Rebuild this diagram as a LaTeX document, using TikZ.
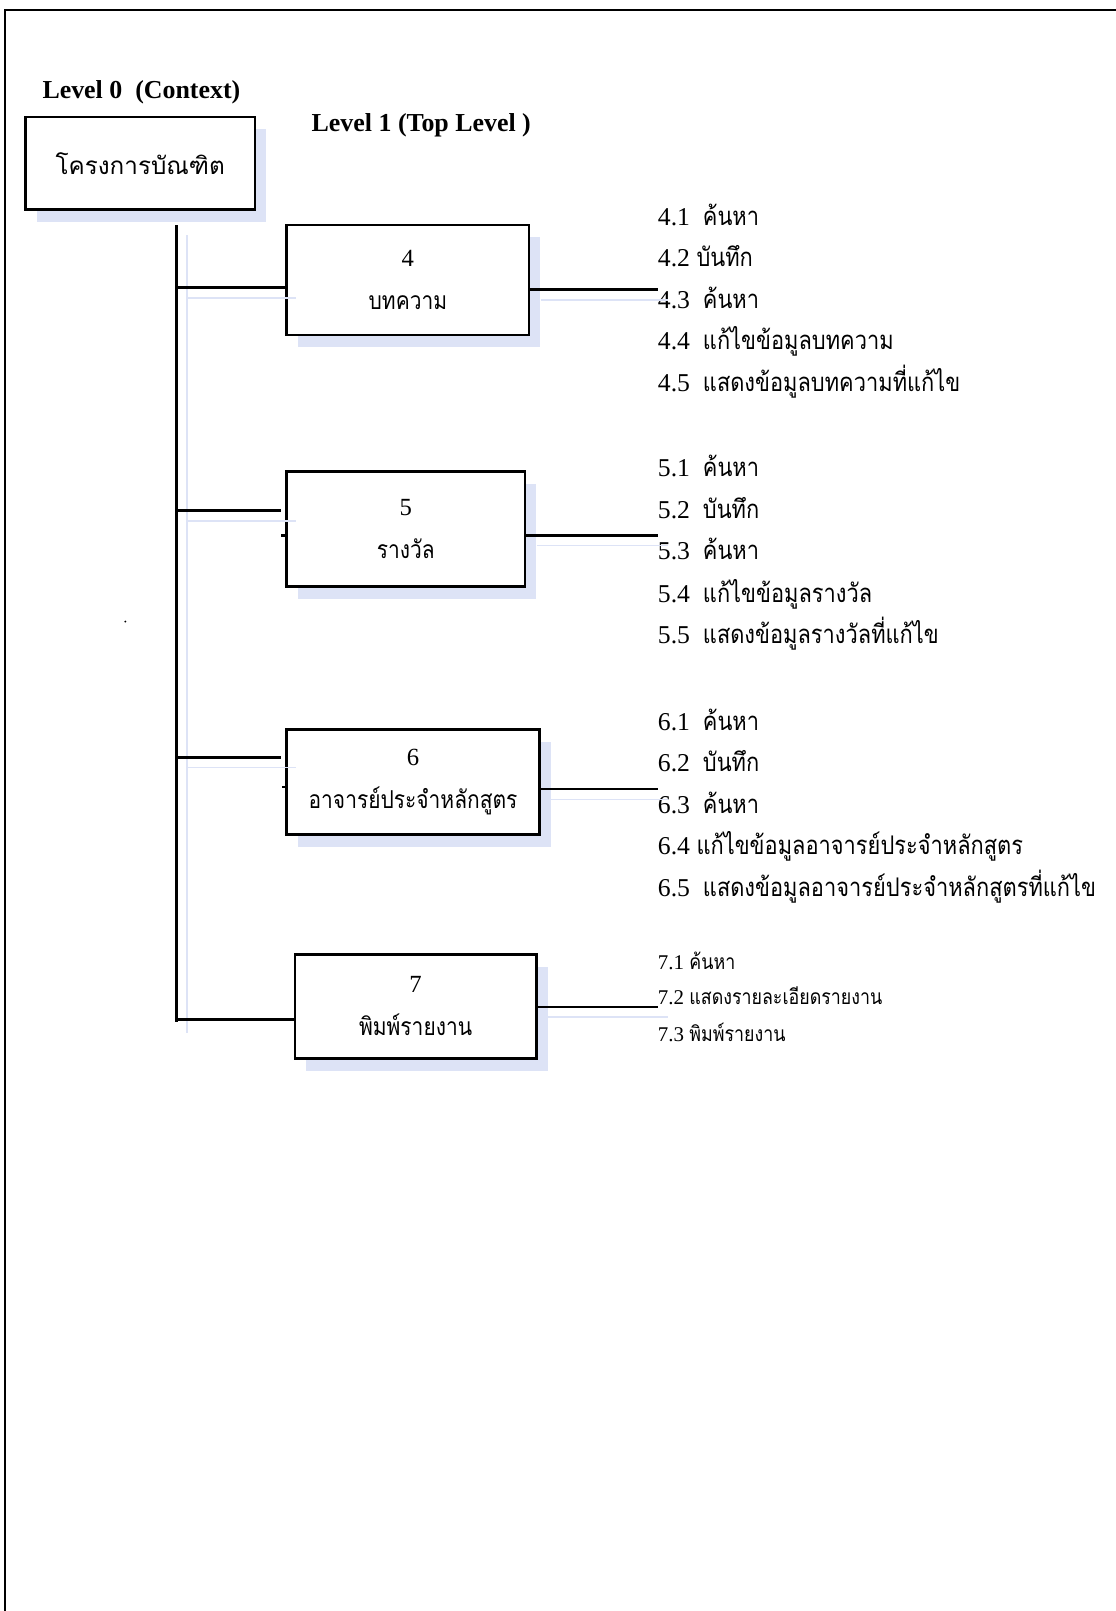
\documentclass[tikz,border=0pt]{standalone}
\usepackage{fontspec}
\usetikzlibrary{shadows}
\setmainfont{Liberation Serif}
\newfontfamily\thai[Script=Thai,FakeStretch=0.85]{Loma}
\newfontfamily\thaiwide[Script=Thai]{Loma}
\definecolor{shade}{RGB}{221,227,246}
\newcommand\lvl[2]{#1{\thai #2}}
\begin{document}
\begin{tikzpicture}[x=0.5pt,y=-0.5pt,
  proc/.style={draw=black,line width=1.25pt,fill=white,inner sep=0pt,align=center,
    font=\fontsize{12}{14}\selectfont,
    drop shadow={fill=shade,opacity=1,shadow xshift=5.5pt,shadow yshift=-6pt}},
  link/.style={line width=1.3pt,black},
  ghostline/.style={draw=shade,line width=0.8pt,transform canvas={xshift=5pt,yshift=-5pt}},
  sub/.style={anchor=base west,inner sep=0pt,font=\fontsize{12.5}{15}\selectfont},
  subsmall/.style={anchor=base west,inner sep=0pt,font=\fontsize{10.2}{12}\selectfont},
  heading/.style={anchor=base west,inner sep=0pt,font=\bfseries\fontsize{12.6}{15}\selectfont}]

\useasboundingbox (0,0) rectangle (1086,1568);

% page frame (top and left edges)
\draw[line width=1.1pt] (5,1568) -- (5,10) -- (1086,10);

% headings
\node[heading] (h0) at (41,96) {Level 0\ \ (Context)};
\node[heading] (h1) at (303,128) {Level 1 (Top Level )};

% process boxes
\node[proc,minimum width=223*0.5pt,minimum height=90*0.5pt,font=\thaiwide\fontsize{11.8}{14}\selectfont]
  (root) at (136.5,159) {โครงการบัณฑิต};
\node[proc,minimum width=236*0.5pt,minimum height=107*0.5pt] (b4) at (397,272.5) {4\\[7pt]{\thai บทความ}};
\node[proc,minimum width=232*0.5pt,minimum height=112*0.5pt] (b5) at (395,515) {5\\[7pt]{\thai รางวัล}};
\node[proc,minimum width=246*0.5pt,minimum height=102*0.5pt] (b6) at (402,761) {6\\[7pt]{\thai อาจารย์ประจำหลักสูตร}};
\node[proc,minimum width=235*0.5pt,minimum height=101*0.5pt] (b7) at (404.5,979.5) {7\\[7pt]{\thai พิมพ์รายงาน}};

% sub-process lists
\node[sub] (l41) at (640,219) {\lvl{4.1\ \ }{ค้นหา}};
\node[sub] (l42) at (640,259) {\lvl{4.2 }{บันทึก}};
\node[sub] (l43) at (640,300) {\lvl{4.3\ \ }{ค้นหา}};
\node[sub] (l44) at (640,340) {\lvl{4.4\ \ }{แก้ไขข้อมูลบทความ}};
\node[sub] (l45) at (640,381) {\lvl{4.5\ \ }{แสดงข้อมูลบทความที่แก้ไข}};

\node[sub] (l51) at (640,464) {\lvl{5.1\ \ }{ค้นหา}};
\node[sub] (l52) at (640,505) {\lvl{5.2\ \ }{บันทึก}};
\node[sub] (l53) at (640,545) {\lvl{5.3\ \ }{ค้นหา}};
\node[sub] (l54) at (640,586) {\lvl{5.4\ \ }{แก้ไขข้อมูลรางวัล}};
\node[sub] (l55) at (640,626) {\lvl{5.5\ \ }{แสดงข้อมูลรางวัลที่แก้ไข}};

\node[sub] (l61) at (640,711) {\lvl{6.1\ \ }{ค้นหา}};
\node[sub] (l62) at (640,751) {\lvl{6.2\ \ }{บันทึก}};
\node[sub] (l63) at (640,792) {\lvl{6.3\ \ }{ค้นหา}};
\node[sub] (l64) at (640,832) {\lvl{6.4 }{แก้ไขข้อมูลอาจารย์ประจำหลักสูตร}};
\node[sub] (l65) at (640,873) {\lvl{6.5\ \ }{แสดงข้อมูลอาจารย์ประจำหลักสูตรที่แก้ไข}};

\node[subsmall] (l71) at (640,944) {\lvl{7.1 }{ค้นหา}};
\node[subsmall] (l72) at (640,978) {\lvl{7.2 }{แสดงรายละเอียดรายงาน}};
\node[subsmall] (l73) at (640,1014) {\lvl{7.3 }{พิมพ์รายงาน}};

% trunk and branch points
\coordinate (trtop) at (172,219);
\coordinate (trbot) at (172,995);
\coordinate (j4) at (172,280);
\coordinate (j5) at (172,497);
\coordinate (j6) at (172,737);
\coordinate (j7) at (172,992);

% faint offset copy of the connectors
\draw[ghostline] (trtop) -- (trbot);
\draw[ghostline] (j4) -- (j4 -| b4.west);
\draw[ghostline] (j5) -- (j5 -| b5.west);
\draw[ghostline] (j6) -- (j6 -| b6.west);
\draw[ghostline] (b4.east |- 0,282) -- (l43.west |- 0,282);
\draw[ghostline] (b5.east |- 0,521) -- (l53.west |- 0,521);
\draw[ghostline] (b6.east |- 0,768) -- (l63.west |- 0,768);
\draw[ghostline] (b7.east |- 0,980) -- (l72.west |- 0,980);

% connectors
\draw[link] (trtop) -- (trbot);
\draw[link] (j4) -- (j4 -| b4.west);
\draw[link] (j5) -- ([xshift=-2pt]j5 -| b5.west);
\draw[link] (j6) -- ([xshift=-2pt]j6 -| b6.west);
\draw[link] (j7) -- (j7 -| b7.west);
\draw[link] ([xshift=-2pt]b5.west |- 0,521) -- (b5.west |- 0,521);
\draw[link] ([xshift=-1.5pt]b6.west |- 0,766) -- (b6.west |- 0,766);

\draw[link] (b4.east |- 0,282) -- (l43.west |- 0,282);
\draw[link] (b5.east |- 0,521) -- (l53.west |- 0,521);
\draw[link] (b6.east |- 0,768) -- (l63.west |- 0,768);
\draw[link] (b7.east |- 0,980) -- (l72.west |- 0,980);

% stray mark
\fill (122,605) circle (1);
\end{tikzpicture}
\end{document}
